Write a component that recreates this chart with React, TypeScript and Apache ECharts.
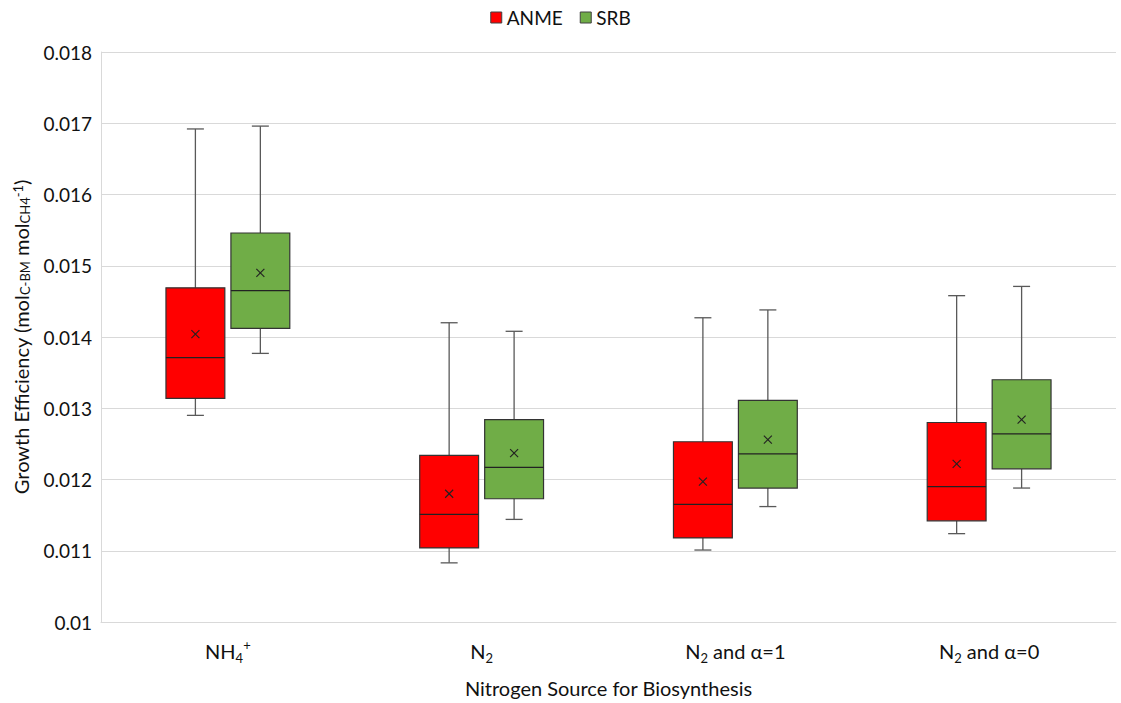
import React, { useEffect, useRef } from "react";
import * as echarts from "echarts";

// Nitrogen source categories (x axis)
const categories = ["NH4+", "N2", "N2 and α=1", "N2 and α=0"];

// ANME growth-efficiency statistics per category
const anmeMin = [0.0129, 0.01083, 0.01101, 0.01124];
const anmeQ1 = [0.01314, 0.01104, 0.01118, 0.01142];
const anmeMedian = [0.01371, 0.01151, 0.01165, 0.0119];
const anmeQ3 = [0.01469, 0.01234, 0.01253, 0.0128];
const anmeMax = [0.01692, 0.0142, 0.01427, 0.01458];
const anmeMean = [0.01404, 0.0118, 0.01197, 0.01222];

// SRB growth-efficiency statistics per category
const srbMin = [0.01377, 0.01144, 0.01162, 0.01188];
const srbQ1 = [0.01412, 0.01173, 0.01188, 0.01215];
const srbMedian = [0.01465, 0.01217, 0.01236, 0.01264];
const srbQ3 = [0.01546, 0.01284, 0.01311, 0.0134];
const srbMax = [0.01696, 0.01408, 0.01438, 0.01471];
const srbMean = [0.0149, 0.01237, 0.01256, 0.01284];

const FONT = "Lato";

function rows(mn: number[], q1: number[], md: number[], q3: number[], mx: number[], mean: number[]) {
  return categories.map((_, i) => [i, mn[i], q1[i], md[i], q3[i], mx[i], mean[i]]);
}

// Rich-text versions of the category names (subscripts / superscripts)
function categoryLabel(name: string): string {
  if (name === "NH4+") return "{m|NH}{sub|4}{sup|+}";
  if (name.startsWith("N2")) return "{m|N}{sub|2}{m|" + name.slice(2) + "}";
  return "{m|" + name + "}";
}

function boxRenderer(side: number) {
  return (params: any, api: any) => {
    const cat = api.value(0);
    const band = api.size([1, 0])[0];
    const boxW = band * 0.232;
    const cx = api.coord([cat, 0.01])[0] + side * band * 0.128;
    const y = (i: number) => api.coord([cat, api.value(i)])[1];
    const yMin = y(1), yQ1 = y(2), yMed = y(3), yQ3 = y(4), yMax = y(5), yMean = y(6);
    const cap = 8.5;
    const whisker = "#595959";
    const line = (x1: number, y1: number, x2: number, y2: number, stroke: string, w: number) => ({
      type: "line",
      shape: { x1, y1, x2, y2 },
      style: { stroke, lineWidth: w },
    });
    const m = 4;
    return {
      type: "group",
      children: [
        line(cx, yMax, cx, yQ3, whisker, 1.3),
        line(cx, yQ1, cx, yMin, whisker, 1.3),
        line(cx - cap, yMax, cx + cap, yMax, whisker, 1.3),
        line(cx - cap, yMin, cx + cap, yMin, whisker, 1.3),
        {
          type: "rect",
          shape: { x: cx - boxW / 2, y: yQ3, width: boxW, height: yQ1 - yQ3 },
          style: { fill: api.visual("color"), stroke: "#333333", lineWidth: 1.2 },
        },
        line(cx - boxW / 2, yMed, cx + boxW / 2, yMed, "#222222", 1.3),
        line(cx - m, yMean - m, cx + m, yMean + m, "#222222", 1.2),
        line(cx - m, yMean + m, cx + m, yMean - m, "#222222", 1.2),
      ],
    };
  };
}

export default function App() {
  const ref = useRef<HTMLDivElement>(null);

  useEffect(() => {
    document.body.style.margin = "0";
    if (!ref.current) return;
    const chart = echarts.init(ref.current, undefined, { renderer: "svg" });

    const richLabel = {
      m: { fontFamily: FONT, fontSize: 20, color: "#111", lineHeight: 26, verticalAlign: "middle" },
      sub: { fontFamily: FONT, fontSize: 13, color: "#111", lineHeight: 13, verticalAlign: "bottom" },
      sup: { fontFamily: FONT, fontSize: 13, color: "#111", lineHeight: 13, verticalAlign: "top" },
    };

    chart.setOption({
      animation: false,
      backgroundColor: "#ffffff",
      textStyle: { fontFamily: FONT },
      legend: {
        top: 3,
        left: "center",
        icon: "rect",
        itemWidth: 11,
        itemHeight: 11,
        itemGap: 17,
        textStyle: { fontFamily: FONT, fontSize: 19, color: "#111" },
        data: [
          { name: "ANME", itemStyle: { borderColor: "#404040", borderWidth: 1 } },
          { name: "SRB", itemStyle: { borderColor: "#404040", borderWidth: 1 } },
        ],
      },
      grid: { left: 101, right: 5, top: 52, bottom: 79 },
      xAxis: {
        type: "category",
        data: categories,
        axisLine: { lineStyle: { color: "#D9D9D9", width: 1 } },
        axisTick: { show: false },
        axisLabel: {
          margin: 16,
          formatter: (v: string) => categoryLabel(v),
          rich: richLabel,
        },
        name: "Nitrogen Source for Biosynthesis",
        nameLocation: "middle",
        nameGap: 56,
        nameTextStyle: { fontFamily: FONT, fontSize: 20, color: "#111" },
      },
      yAxis: {
        type: "value",
        min: 0.01,
        max: 0.018,
        interval: 0.001,
        axisLine: { show: true, lineStyle: { color: "#D9D9D9", width: 1 } },
        axisTick: { show: false },
        splitLine: { lineStyle: { color: "#D9D9D9", width: 1 } },
        axisLabel: {
          margin: 9,
          fontFamily: FONT,
          fontSize: 19,
          color: "#111",
          formatter: (v: number) => String(parseFloat(v.toFixed(3))),
        },
        name: "Growth Efficiency (mol{sub|C-BM} mol{sub|CH4}{sup|-1})",
        nameLocation: "middle",
        nameRotate: 90,
        nameGap: 70,
        nameTextStyle: {
          fontFamily: FONT,
          fontSize: 20,
          color: "#111",
          rich: {
            sub: { fontFamily: FONT, fontSize: 13, color: "#111", verticalAlign: "bottom", lineHeight: 13 },
            sup: { fontFamily: FONT, fontSize: 13, color: "#111", verticalAlign: "top", lineHeight: 13 },
          },
        },
      },
      series: [
        {
          name: "ANME",
          type: "custom",
          itemStyle: { color: "#FF0000" },
          renderItem: boxRenderer(-1),
          encode: { x: 0, y: [1, 2, 3, 4, 5, 6] },
          data: rows(anmeMin, anmeQ1, anmeMedian, anmeQ3, anmeMax, anmeMean),
        },
        {
          name: "SRB",
          type: "custom",
          itemStyle: { color: "#70AD47" },
          renderItem: boxRenderer(1),
          encode: { x: 0, y: [1, 2, 3, 4, 5, 6] },
          data: rows(srbMin, srbQ1, srbMedian, srbQ3, srbMax, srbMean),
        },
      ],
    });

    return () => chart.dispose();
  }, []);

  return <div ref={ref} style={{ width: 1121, height: 703 }} />;
}
